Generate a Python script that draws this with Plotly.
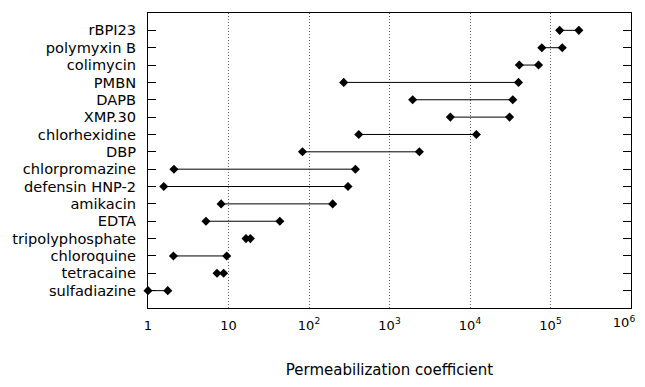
import plotly.graph_objects as go

compounds = ["rBPI23", "polymyxin B", "colimycin", "PMBN", "DAPB", "XMP.30",
             "chlorhexidine", "DBP", "chlorpromazine", "defensin HNP-2", "amikacin",
             "EDTA", "tripolyphosphate", "chloroquine", "tetracaine", "sulfadiazine"]
low_vals = [1.3e5, 7.8e4, 4.1e4, 270, 1940, 5700, 415, 83, 2.1, 1.57, 8.1,
            5.25, 16.5, 2.07, 7.2, 1.0]
high_vals = [2.25e5, 1.4e5, 7.1e4, 4.0e4, 3.4e4, 3.1e4, 1.2e4, 2350, 377, 305, 197,
             43.4, 18.7, 9.5, 8.7, 1.76]
tick_vals = [1, 10, 100, 1000, 1e4, 1e5, 1e6]
tick_text = ["1", "10", "10<sup>2</sup>", "10<sup>3</sup>", "10<sup>4</sup>",
             "10<sup>5</sup>", "10<sup>6</sup>"]

xs, ys = [], []
for c, lo, hi in zip(compounds, low_vals, high_vals):
    xs += [lo, hi, None]
    ys += [c, c, None]

fig = go.Figure()
fig.add_trace(go.Scatter(
    x=xs, y=ys, mode="lines+markers",
    line=dict(color="black", width=1),
    marker=dict(symbol="diamond", size=7, color="black"),
    connectgaps=False, showlegend=False, hoverinfo="skip", cliponaxis=False))
# invisible helper trace so the overlaying axis (last tick label) is drawn
fig.add_trace(go.Scatter(
    x=[tick_vals[-1]], y=[compounds[-1]], xaxis="x2", mode="markers",
    marker=dict(size=1, opacity=0), showlegend=False, hoverinfo="skip"))

font_family = "DejaVu Sans, Liberation Sans, Arial, sans-serif"
# page body has an 8px default margin, so the figure is sized/offset to fit the window
fig.update_layout(
    width=637, height=371,
    margin=dict(l=140, r=14, t=5, b=71),
    paper_bgcolor="white", plot_bgcolor="white",
    font=dict(family=font_family, color="black", size=14),
    xaxis=dict(
        type="log", range=[0, 6], automargin=False,
        tickvals=tick_vals[:-1], ticktext=tick_text[:-1],
        showgrid=True, gridcolor="#666666", griddash="1px,2px", gridwidth=1,
        showline=True, linecolor="black", linewidth=1, mirror=True,
        ticks="", tickfont=dict(size=13), ticklabelstandoff=5,
        ticklabeloverflow="allow",
        zeroline=False,
        title=dict(text="Permeabilization coefficient", font=dict(size=15),
                   standoff=38),
    ),
    xaxis2=dict(
        type="log", range=[0, 6], automargin=False, overlaying="x",
        anchor="y", side="bottom",
        tickvals=tick_vals[-1:], ticktext=tick_text[-1:],
        showgrid=False, showline=False, zeroline=False, ticks="",
        tickfont=dict(size=13), ticklabelstandoff=5, ticklabelshift=-7,
        ticklabeloverflow="allow",
    ),
    yaxis=dict(
        type="category", categoryorder="array", automargin=False,
        categoryarray=compounds[::-1], range=[-1, 16],
        tickmode="array", tickvals=compounds, ticktext=compounds,
        showgrid=False, zeroline=False,
        showline=True, linecolor="black", linewidth=1, mirror="ticks",
        ticks="inside", ticklen=8, tickcolor="black", tickwidth=1,
        tickfont=dict(size=14.6), ticklabelstandoff=8,
    ),
)

fig.write_html("out.html")
